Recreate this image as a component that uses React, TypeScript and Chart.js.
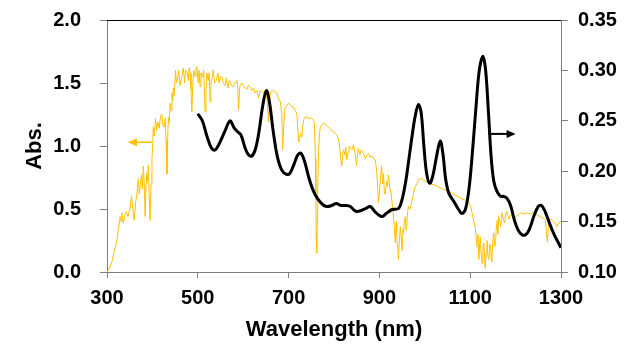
import React, { useEffect, useRef } from "react";
import { Chart, registerables } from "chart.js";

Chart.register(...registerables);

// Solar spectrum (left axis, Abs.)
const solarWl = [
  300, 305, 310, 315, 321, 325, 329, 331, 333, 336, 340, 343, 346, 350, 352, 354, 357, 360, 363, 365,
  367, 369, 371, 373, 376, 378, 380, 382, 384, 386, 387, 389, 391, 393, 395, 397, 399, 401, 402, 404,
  407, 409, 412, 415, 418, 421, 423, 426, 428, 430, 432, 434, 435, 437, 439, 441, 443, 445, 446, 448,
  451, 453, 455, 458, 461, 465, 468, 471, 473, 476, 479, 481, 483, 485, 487, 489, 491, 494, 496, 498,
  501, 503, 505, 507, 510, 513, 516, 518, 520, 523, 525, 527, 529, 532, 534, 537, 541, 544, 547, 550,
  553, 556, 560, 563, 566, 569, 571, 575, 578, 582, 586, 588, 590, 592, 593, 597, 600, 604, 608, 611,
  615, 620, 623, 626, 630, 634, 637, 641, 645, 648, 652, 654, 656, 658, 660, 665, 670, 674, 677, 682,
  685, 687, 689, 692, 696, 700, 705, 711, 715, 718, 720, 723, 726, 729, 731, 733, 737, 740, 745, 751,
  755, 757, 759, 760, 761, 762, 763, 764, 766, 768, 770, 774, 777, 782, 788, 793, 799, 803, 806, 810,
  813, 815, 817, 819, 821, 824, 826, 828, 831, 833, 836, 840, 843, 846, 848, 850, 852, 854, 857, 860,
  865, 869, 872, 876, 880, 884, 887, 891, 894, 896, 898, 900, 902, 905, 907, 909, 911, 913, 916, 918,
  920, 923, 926, 928, 931, 933, 935, 937, 938, 940, 942, 944, 946, 948, 950, 952, 953, 955, 957, 959,
  960, 962, 964, 968, 972, 975, 979, 983, 986, 990, 994, 1001, 1012, 1023, 1038, 1053, 1067, 1082, 1090, 1097,
  1101, 1104, 1108, 1111, 1113, 1115, 1117, 1119, 1122, 1124, 1126, 1128, 1130, 1132, 1133, 1135, 1137, 1139, 1141, 1143,
  1145, 1147, 1148, 1150, 1152, 1154, 1156, 1158, 1159, 1161, 1163, 1165, 1167, 1170, 1173, 1176, 1178, 1181, 1185, 1189,
  1193, 1196, 1200, 1205, 1211, 1218, 1225, 1232, 1240, 1248, 1255, 1260, 1266, 1268, 1270, 1272, 1273, 1278, 1284, 1288,
  1291, 1295, 1300,
];
const solarAbs = [
  0.0, 0.03, 0.07, 0.15, 0.23, 0.33, 0.44, 0.4, 0.47, 0.39, 0.46, 0.48, 0.44, 0.49, 0.55, 0.6, 0.5, 0.41, 0.55, 0.6,
  0.66, 0.74, 0.62, 0.68, 0.77, 0.66, 0.84, 0.7, 0.44, 0.7, 0.78, 0.72, 0.85, 0.6, 0.41, 0.7, 0.89, 1.05, 1.15, 1.08,
  1.22, 1.12, 1.19, 1.14, 1.24, 1.25, 1.16, 1.15, 1.22, 1.05, 0.78, 1.1, 1.23, 1.18, 1.34, 1.28, 1.42, 1.36, 1.46, 1.4,
  1.6, 1.5, 1.52, 1.6, 1.48, 1.56, 1.62, 1.5, 1.6, 1.59, 1.52, 1.62, 1.58, 1.45, 1.27, 1.5, 1.6, 1.55, 1.62, 1.63,
  1.5, 1.6, 1.47, 1.58, 1.55, 1.6, 1.27, 1.45, 1.58, 1.52, 1.58, 1.35, 1.5, 1.55, 1.6, 1.5, 1.52, 1.58, 1.5, 1.55,
  1.55, 1.5, 1.48, 1.54, 1.46, 1.52, 1.51, 1.48, 1.47, 1.5, 1.52, 1.46, 1.29, 1.45, 1.48, 1.5, 1.48, 1.46, 1.45, 1.48,
  1.47, 1.44, 1.46, 1.42, 1.44, 1.38, 1.44, 1.43, 1.42, 1.44, 1.4, 1.3, 1.19, 1.35, 1.43, 1.44, 1.43, 1.42, 1.38, 1.35,
  1.25, 0.97, 1.15, 1.3, 1.32, 1.34, 1.32, 1.31, 1.28, 1.26, 1.15, 1.03, 1.1, 1.07, 1.15, 1.21, 1.23, 1.23, 1.22, 1.22,
  1.2, 1.18, 0.9, 0.57, 0.3, 0.15, 0.4, 0.65, 0.95, 1.1, 1.15, 1.17, 1.18, 1.17, 1.15, 1.13, 1.11, 1.1, 1.09, 1.05,
  0.98, 0.9, 0.84, 0.92, 0.97, 0.93, 0.99, 0.89, 0.95, 1.0, 0.99, 0.97, 1.01, 0.95, 0.9, 0.84, 0.95, 0.98, 0.93, 0.97,
  0.94, 0.9, 0.92, 0.94, 0.91, 0.92, 0.9, 0.89, 0.8, 0.68, 0.55, 0.62, 0.73, 0.84, 0.7, 0.78, 0.62, 0.62, 0.72, 0.68,
  0.77, 0.66, 0.62, 0.55, 0.44, 0.35, 0.23, 0.4, 0.31, 0.2, 0.1, 0.25, 0.36, 0.28, 0.17, 0.34, 0.31, 0.4, 0.44, 0.33,
  0.36, 0.47, 0.52, 0.5, 0.57, 0.62, 0.68, 0.7, 0.73, 0.74, 0.74, 0.72, 0.7, 0.69, 0.66, 0.64, 0.61, 0.58, 0.57, 0.55,
  0.52, 0.47, 0.4, 0.36, 0.28, 0.2, 0.3, 0.1, 0.28, 0.15, 0.07, 0.2, 0.23, 0.1, 0.03, 0.15, 0.25, 0.12, 0.1, 0.22,
  0.2, 0.08, 0.12, 0.26, 0.31, 0.2, 0.25, 0.38, 0.41, 0.3, 0.44, 0.4, 0.36, 0.47, 0.42, 0.39, 0.46, 0.48, 0.42, 0.45,
  0.46, 0.42, 0.44, 0.45, 0.47, 0.46, 0.47, 0.46, 0.47, 0.45, 0.44, 0.43, 0.41, 0.3, 0.24, 0.35, 0.41, 0.42, 0.4, 0.38,
  0.36, 0.39, 0.4,
];

// Absorption spectrum (right axis)
const absWl = [
  500, 510, 520, 530, 538, 548, 560, 571, 580, 588, 595, 605, 612, 619, 627, 635, 643, 651, 658, 666,
  675, 685, 695, 703, 712, 720, 727, 735, 745, 755, 765, 775, 784, 795, 805, 815, 825, 836, 845, 851,
  860, 870, 880, 890, 900, 906, 915, 928, 942, 950, 958, 965, 972, 979, 986, 992, 998, 1004, 1011, 1018,
  1026, 1034, 1040, 1046, 1053, 1064, 1073, 1082, 1090, 1098, 1106, 1113, 1120, 1128, 1134, 1140, 1146, 1152, 1159, 1167,
  1174, 1181, 1189, 1197, 1205, 1214, 1222, 1230, 1240, 1250, 1257, 1265, 1275, 1285, 1293, 1300,
];
const absVal = [
  0.257, 0.25, 0.235, 0.223, 0.221, 0.228, 0.24, 0.25, 0.243, 0.239, 0.236, 0.222, 0.216, 0.215, 0.222, 0.24, 0.265, 0.28, 0.268, 0.24,
  0.215, 0.201, 0.197, 0.198, 0.207, 0.216, 0.218, 0.21, 0.193, 0.18, 0.172, 0.167, 0.165, 0.166, 0.168, 0.166, 0.166, 0.165, 0.161, 0.16,
  0.161, 0.163, 0.165, 0.16, 0.156, 0.155, 0.158, 0.162, 0.163, 0.172, 0.19, 0.212, 0.235, 0.255, 0.266, 0.258, 0.225, 0.198, 0.188, 0.196,
  0.215, 0.23, 0.217, 0.192, 0.178, 0.17, 0.163, 0.158, 0.163, 0.185, 0.225, 0.265, 0.3, 0.314, 0.3, 0.26, 0.215, 0.19, 0.18, 0.175,
  0.175, 0.173, 0.166, 0.152, 0.142, 0.137, 0.137, 0.142, 0.155, 0.165, 0.166, 0.16, 0.148, 0.137, 0.13, 0.124,
];

// Arrows (data units): [xFrom, xTo, y]
const solarArrow = [399, 346, 1.03];
const absArrow = [1140, 1200, 0.237];

const yLeftTicks = [0, 0.5, 1.0, 1.5, 2.0];
const yRightTicks = [0.1, 0.15, 0.2, 0.25, 0.3, 0.35];
const xTicks = [300, 500, 700, 900, 1100, 1300];

const YELLOW = "#FFC000";
const FONT = "'Liberation Sans', Arial, sans-serif";

export default function App() {
  const ref = useRef<HTMLCanvasElement | null>(null);

  useEffect(() => {
    document.body.style.margin = "0";
    const canvas = ref.current!;
    const drawArrow = (ctx: any, x1: number, x2: number, y: number, color: string, lw: number) => {
      const dir = Math.sign(x2 - x1);
      ctx.save();
      ctx.strokeStyle = color;
      ctx.fillStyle = color;
      ctx.lineWidth = lw;
      ctx.beginPath();
      ctx.moveTo(x1, y);
      ctx.lineTo(x2 - dir * 6, y);
      ctx.stroke();
      ctx.beginPath();
      ctx.moveTo(x2, y);
      ctx.lineTo(x2 - dir * 9, y - 4);
      ctx.lineTo(x2 - dir * 9, y + 4);
      ctx.closePath();
      ctx.fill();
      ctx.restore();
    };
    const extras = {
      id: "extras",
      afterDatasetsDraw(chart: any) {
        const { ctx, chartArea, scales } = chart;
        ctx.save();
        ctx.strokeStyle = "#000";
        ctx.lineWidth = 1;
        ctx.beginPath();
        ctx.moveTo(chartArea.left, Math.round(chartArea.top) + 0.5);
        ctx.lineTo(chartArea.right, Math.round(chartArea.top) + 0.5);
        ctx.stroke();
        ctx.restore();
        const x = scales.x;
        drawArrow(
          ctx,
          x.getPixelForValue(solarArrow[0]),
          x.getPixelForValue(solarArrow[1]),
          scales.y.getPixelForValue(solarArrow[2]),
          YELLOW,
          1.5
        );
        drawArrow(
          ctx,
          x.getPixelForValue(absArrow[0]),
          x.getPixelForValue(absArrow[1]),
          scales.y2.getPixelForValue(absArrow[2]),
          "#000",
          2
        );
      },
    };

    const tickFont = { family: FONT, size: 20, weight: "bold" as const };
    const titleFont = { family: FONT, size: 22, weight: "bold" as const };

    const chart = new Chart(canvas, {
      type: "line",
      data: {
        datasets: [
          {
            label: "Absorption",
            data: absWl.map((w, i) => ({ x: w, y: absVal[i] })),
            yAxisID: "y2",
            borderColor: "#000",
            borderWidth: 3,
            pointRadius: 0,
            tension: 0.35,
            fill: false,
          },
          {
            label: "Solar",
            data: solarWl.map((w, i) => ({ x: w, y: solarAbs[i] })),
            yAxisID: "y",
            borderColor: YELLOW,
            borderWidth: 1,
            pointRadius: 0,
            tension: 0,
            fill: false,
          },
        ],
      },
      options: {
        responsive: false,
        animation: false,
        devicePixelRatio: 1,
        layout: { padding: { top: 20, left: 0, right: 0, bottom: 0 } },
        plugins: { legend: { display: false }, tooltip: { enabled: false } },
        scales: {
          x: {
            type: "linear",
            min: 300,
            max: 1300,
            afterBuildTicks: (s: any) => {
              s.ticks = xTicks.map((v) => ({ value: v }));
            },
            afterFit: (s: any) => {
              s.height = 90;
              s.paddingLeft = 0;
              s.paddingRight = 0;
            },
            ticks: { font: tickFont, color: "#000", padding: 8, maxRotation: 0, callback: (v: any) => String(v) },
            grid: { drawOnChartArea: false, drawTicks: true, tickLength: 6, color: "#808080" },
            border: { display: true, color: "#808080", width: 1 },
            title: { display: true, text: "Wavelength (nm)", font: titleFont, color: "#000", padding: { top: 0, bottom: 19 } },
          },
          y: {
            type: "linear",
            position: "left",
            min: 0,
            max: 2,
            afterBuildTicks: (s: any) => {
              s.ticks = yLeftTicks.map((v) => ({ value: v }));
            },
            afterFit: (s: any) => {
              s.width = 107;
              s.paddingTop = 0;
              s.paddingBottom = 0;
            },
            ticks: { font: tickFont, color: "#000", padding: 19, callback: (v: any) => Number(v).toFixed(1) },
            grid: { drawOnChartArea: false, drawTicks: true, tickLength: 7, color: "#808080" },
            border: { display: true, color: "#808080", width: 1 },
            title: { display: true, text: "Abs.", font: titleFont, color: "#000", padding: { top: 22, bottom: 0 } },
          },
          y2: {
            type: "linear",
            position: "right",
            min: 0.1,
            max: 0.35,
            afterBuildTicks: (s: any) => {
              s.ticks = yRightTicks.map((v) => ({ value: v }));
            },
            afterFit: (s: any) => {
              s.width = 78;
              s.paddingTop = 0;
              s.paddingBottom = 0;
            },
            ticks: { font: tickFont, color: "#000", padding: 10, callback: (v: any) => Number(v).toFixed(2) },
            grid: { drawOnChartArea: false, drawTicks: true, tickLength: 7, color: "#808080" },
            border: { display: true, color: "#808080", width: 1 },
          },
        },
      },
      plugins: [extras],
    });
    return () => chart.destroy();
  }, []);

  return (
    <div style={{ position: "absolute", left: 0, top: 0, width: 639, height: 362, background: "#fff" }}>
      <canvas ref={ref} width={639} height={362} />
    </div>
  );
}
